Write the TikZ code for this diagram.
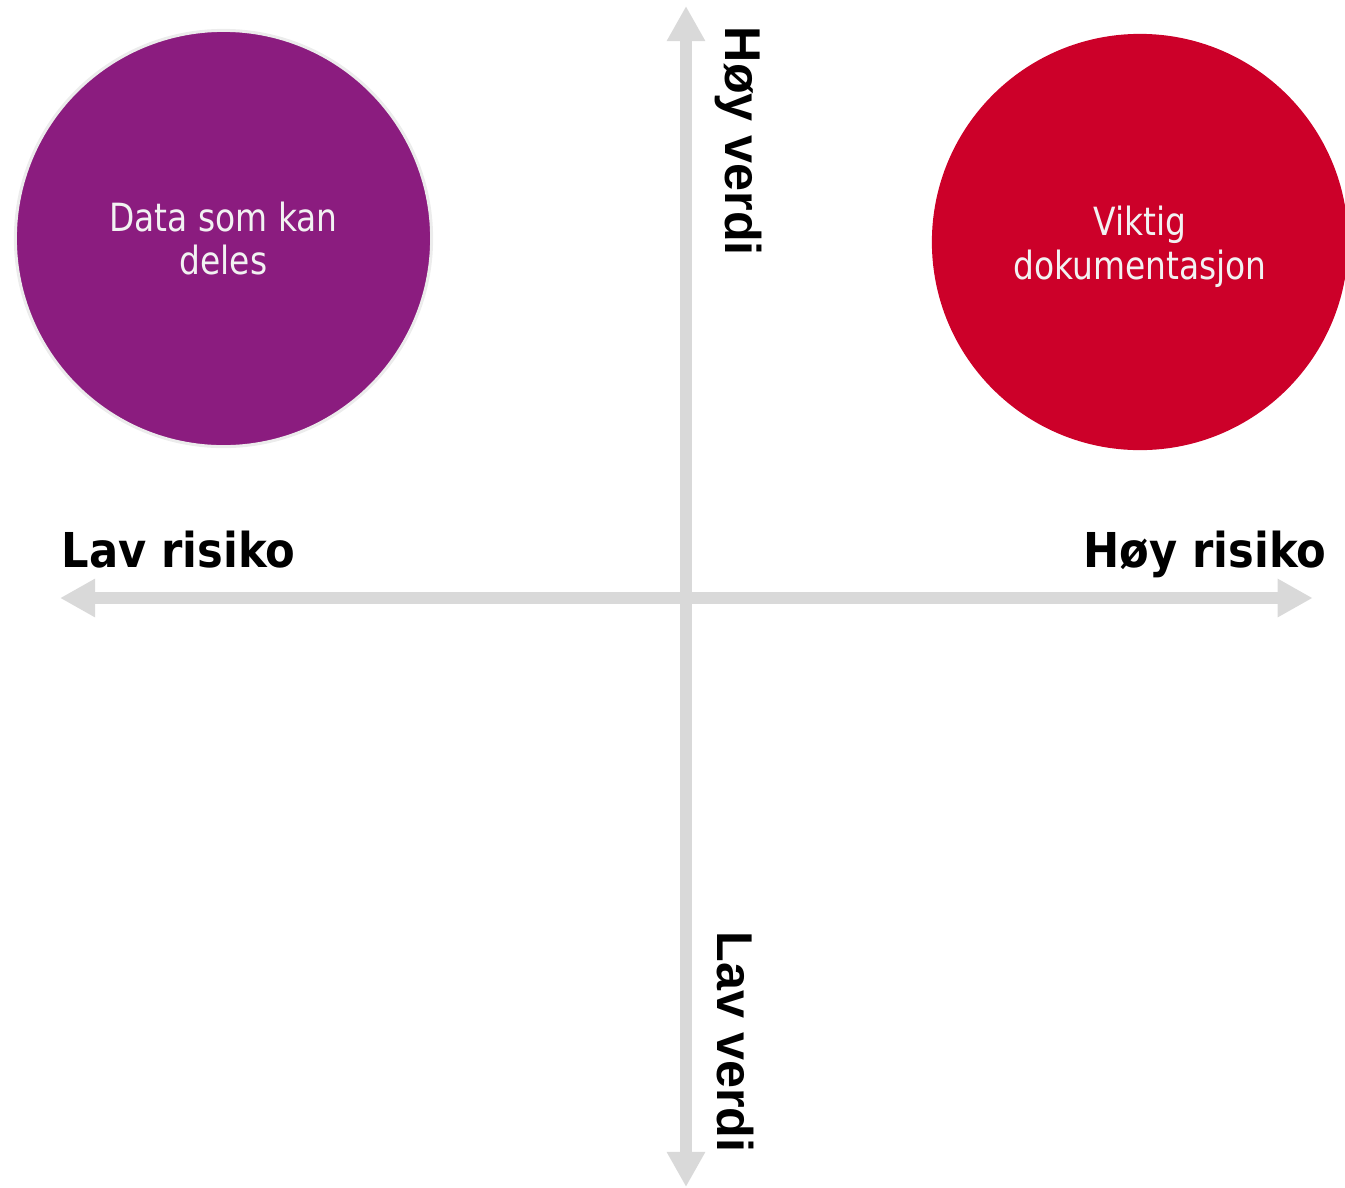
\documentclass[tikz,border=0pt]{standalone}
\usepackage{fontspec}
\usetikzlibrary{arrows.meta}
\newfontfamily\tahfont{DejaVu Sans Condensed}
\newfontfamily\tahnarrow[FakeStretch=0.94]{DejaVu Sans Condensed}
\newfontfamily\arfont{Liberation Sans}
\definecolor{axisgray}{RGB}{217,217,217}
\definecolor{purplec}{RGB}{139,28,127}
\definecolor{redc}{RGB}{204,0,41}
\definecolor{offwhite}{RGB}{242,242,242}
\definecolor{rimgray}{RGB}{236,236,236}
\begin{document}
\begin{tikzpicture}[x=0.01cm,y=-0.01cm,
  axisline/.style={draw=axisgray,line width=12*0.01cm,
    arrows={Triangle[length=0.35cm,width=0.36cm,fill=axisgray]-Triangle[length=0.35cm,width=0.36cm,fill=axisgray]}},
  bubble/.style={circle,inner sep=0pt,minimum size=4.16cm},
  bubbletext/.style={text=offwhite,align=center,inner sep=0pt,
    font=\tahnarrow\fontsize{11.05}{12.5}\selectfont},
  hlabel/.style={inner sep=0pt,font=\tahfont\bfseries\fontsize{13.66}{16}\selectfont},
  vlabel/.style={inner sep=0pt,rotate=-90,anchor=base west,font=\arfont\bfseries\fontsize{14.3}{17}\selectfont}]
\useasboundingbox (0,0) rectangle (1345,1187);
% circles
\node[bubble,fill=purplec,draw=rimgray,line width=3*0.01cm] (low) at (223.5,238.5) {};
\node[bubble,fill=redc] (high) at (1140,242) {};
\node[bubbletext] (lowtxt) at (223.5,238.5) {Data som kan\\deles};
\node[bubbletext] (hightxt) at (1140,247) {Viktig\\dokumentasjon};
% axes
\coordinate (left) at (60,598);
\coordinate (right) at (1312.7,598);
\coordinate (top) at (686,6);
\coordinate (bottom) at (686,1187);
\draw[axisline] (left) -- (right);
\draw[axisline] (bottom) -- (top);
% labels
\node[hlabel,anchor=base west] (lr) at (61,567) {Lav risiko};
\node[hlabel,anchor=base east] (hr) at (1327,567) {Høy risiko};
\node[vlabel] (hv) at (725,26) {Høy verdi};
\node[vlabel] (lv) at (717,931) {Lav verdi};
\end{tikzpicture}
\end{document}
